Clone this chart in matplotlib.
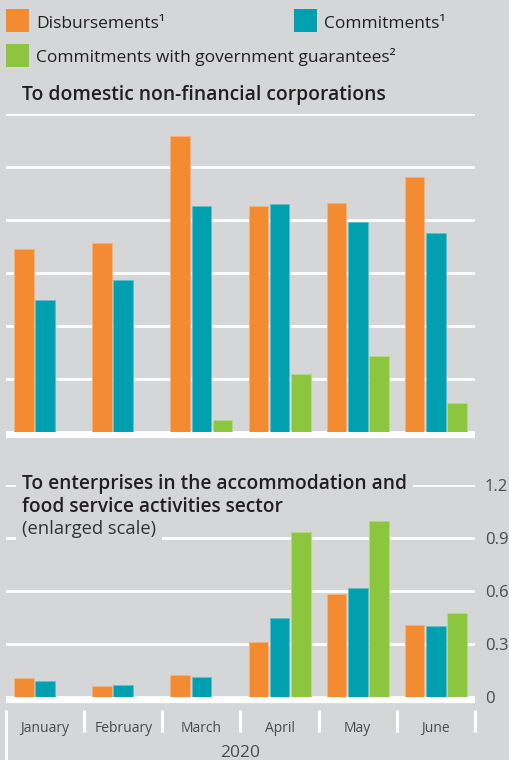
import numpy as np
import matplotlib
matplotlib.use("Agg")
import matplotlib.pyplot as plt
from matplotlib.patches import Rectangle

months = ["January", "February", "March", "April", "May", "June"]
year_label = "2020"

# top panel (domestic non-financial corporations), in gridline units
nfc_disb = [3.45, 3.56, 5.58, 4.26, 4.33, 4.81]
nfc_comm = [2.49, 2.87, 4.27, 4.30, 3.97, 3.75]
nfc_guar = [0.0, 0.0, 0.23, 1.09, 1.43, 0.55]

# bottom panel (accommodation and food service), enlarged scale
acc_disb = [0.109, 0.064, 0.123, 0.31, 0.581, 0.408]
acc_comm = [0.089, 0.070, 0.111, 0.447, 0.619, 0.400]
acc_guar = [0.0, 0.0, 0.0, 0.932, 0.995, 0.475]
acc_ticks = [0, 0.3, 0.6, 0.9, 1.2]
acc_ticklabels = ["0", "0.3", "0.6", "0.9", "1.2"]

labels = ["Disbursements\u00b9", "Commitments\u00b9",
          "Commitments with government guarantees\u00b2"]

BG = "#d5d6d8"
ORANGE = "#f38b33"
TEAL = "#00a0b0"
GREEN = "#8cc63f"
EDGES = ["#f6b27a", "#5cc2cc", "#b5dc85"]
TXT = "#231f20"

plt.rcParams["font.family"] = ["Open Sans", "DejaVu Sans"]

W, H = 510, 760
fig = plt.figure(figsize=(W / 100, H / 100), dpi=100, facecolor=BG)


def rect(left, top, bottom):
    return [left / W, 1 - bottom / H, (475 - left) / W, (bottom - top) / H]


ax1 = fig.add_axes(rect(6, 114, 432))
ax2 = fig.add_axes(rect(6, 485, 697))

x = np.arange(len(months))
bw = 0.25
off = 0.272
colors = [ORANGE, TEAL, GREEN]


def draw(ax, series, ymax, base_off):
    ax.set_facecolor(BG)
    ax.set_xlim(-0.5, len(months) - 0.5)
    ax.set_ylim(0, ymax)
    for s in ax.spines.values():
        s.set_visible(False)
    ax.set_axisbelow(True)
    ax.yaxis.grid(True, color="white", linewidth=2.0)
    ax.xaxis.grid(False)
    ax.set_xticks([])
    for i, (vals, c, ec) in enumerate(zip(series, colors, EDGES)):
        ax.bar(x + (i - 1) * off, vals, width=bw, color=c, edgecolor=ec,
               linewidth=0.6, zorder=3)
    ax.axhline(-base_off, color="white", linewidth=4.5, zorder=1,
               clip_on=False, solid_capstyle="butt")


draw(ax1, [nfc_disb, nfc_comm, nfc_guar], 6, 0.055)
ax1.set_yticks(np.arange(0, 7))
ax1.tick_params(axis="y", length=0, labelleft=False, labelright=False)

draw(ax2, [acc_disb, acc_comm, acc_guar], 1.2, 0.017)
ax2.set_yticks(acc_ticks)
ax2.set_yticklabels(acc_ticklabels)
ax2.yaxis.tick_right()
ax2.tick_params(axis="y", length=0, pad=7, labelsize=12, labelcolor="#4a4a4a")

# month separators and labels
tr = ax2.get_xaxis_transform()
for k in range(len(months) + 1):
    y_end = -0.297 if k == 0 else -0.165
    ax2.plot([k - 0.5, k - 0.5], [-0.061, y_end], color="white", lw=2.2,
             transform=tr, clip_on=False, solid_capstyle="butt")
for k, m in enumerate(months):
    ax2.text(k, -0.15, m, transform=tr, ha="center", va="center",
             fontsize=10, color="#4a4a4a")
ax2.text(2.5, -0.262, year_label, transform=tr, ha="center", va="center",
         fontsize=12.5, color="#4a4a4a")

# panel titles
fig.text(22 / W, 1 - 100 / H, "To domestic non-financial corporations",
         fontsize=13.9, fontweight="semibold", color=TXT, va="baseline")
box = dict(facecolor=BG, edgecolor="none", pad=4.5)
fig.text(22 / W, 1 - 489 / H, "To enterprises in the accommodation and",
         fontsize=13.8, fontweight="semibold", color=TXT, va="baseline", bbox=box)
fig.text(22 / W, 1 - 534 / H, "(enlarged scale)",
         fontsize=13.2, color="#333333", va="baseline", bbox=box)
fig.text(22 / W, 1 - 512 / H, "food service activities sector",
         fontsize=13.8, fontweight="semibold", color=TXT, va="baseline")

# legend
leg_pos = [(6, 9), (294, 9), (6, 44)]
for (lx, ly), c, lab in zip(leg_pos, colors, labels):
    fig.patches.append(Rectangle((lx / W, 1 - (ly + 23) / H), 23 / W, 23 / H,
                                 transform=fig.transFigure, facecolor=c,
                                 edgecolor="none"))
    fig.text((lx + 30) / W, 1 - (ly + 18.5) / H, lab, fontsize=12.5,
             color=TXT, va="baseline")

fig.savefig("out.png", dpi=100, facecolor=BG)
